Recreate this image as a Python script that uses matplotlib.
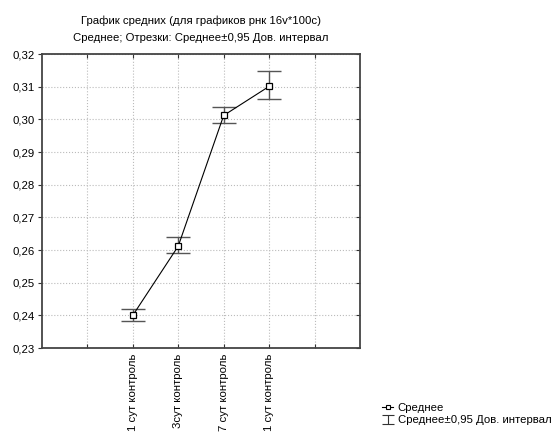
import matplotlib
matplotlib.use("Agg")
import matplotlib.pyplot as plt
from matplotlib.ticker import FuncFormatter, FixedLocator
from matplotlib.legend_handler import HandlerErrorbar
from matplotlib.container import ErrorbarContainer
from matplotlib.lines import Line2D

plt.rcParams['font.family'] = ['Liberation Sans', 'DejaVu Sans']
plt.rcParams['font.size'] = 8.2

# data
groups = ["1 сут контроль", "3сут контроль", "7 сут контроль", "1 сут контроль"]
means = [0.240, 0.2612, 0.3012, 0.3101]
ci_low = [0.2382, 0.2592, 0.2990, 0.3062]
ci_high = [0.2420, 0.2641, 0.3038, 0.3147]
xpos = [2, 3, 4, 5]

fig = plt.figure(figsize=(5.59, 4.43), dpi=100)
ax = fig.add_axes([0.075, 0.2144, 0.569, 0.6636])

yerr = [[m - l for m, l in zip(means, ci_low)],
        [h - m for m, h in zip(means, ci_high)]]
eb = ax.errorbar(xpos, means, yerr=yerr, fmt='none', ecolor='#555555',
                 elinewidth=1.0, capsize=8.5, capthick=1.0, zorder=3)
ln, = ax.plot(xpos, means, color='black', lw=0.8, marker='s', markersize=5,
              markerfacecolor='white', markeredgecolor='black',
              markeredgewidth=0.9, zorder=4)

ax.set_xlim(0, 7)
ax.set_ylim(0.23, 0.32)
ax.xaxis.set_major_locator(FixedLocator([1, 2, 3, 4, 5, 6]))
ax.set_xticklabels(["", groups[0], groups[1], groups[2], groups[3], ""],
                   rotation=90, va='top')
ax.set_yticks([0.23 + 0.01 * i for i in range(10)])
ax.yaxis.set_major_formatter(FuncFormatter(lambda v, p: f"{v:.2f}".replace('.', ',')))

ax.tick_params(axis='x', direction='in', top=True, length=3, color='#333333',
               pad=4)
ax.tick_params(axis='y', direction='out', length=3, color='#333333', pad=2)
ax.tick_params(axis='y', which='both', right=True)
for t in ax.yaxis.get_ticklines()[1::2]:
    t.set_marker(0)
    t.set_markersize(3)
ax.grid(True, ls=':', color='#bbbbbb', lw=0.8)
for s in ax.spines.values():
    s.set_color('#444444')
    s.set_linewidth(1.3)

fig.text(0.36, 0.953, "График средних (для графиков рнк 16v*100c)", ha='center',
         va='center')
fig.text(0.36, 0.914, "Среднее; Отрезки: Среднее±0,95 Дов. интервал", ha='center',
         va='center')

# small legend handles (proxies, nothing drawn in the axes)
h_mean = Line2D([], [], color='black', lw=0.8, marker='s', markersize=3.5,
                markerfacecolor='white', markeredgecolor='black', markeredgewidth=0.8)
h_ci = ax.errorbar([float('nan')], [float('nan')], yerr=[0.001], fmt='none',
                   ecolor='#333333', elinewidth=0.8, capsize=4.5, capthick=0.8)
leg = fig.legend([h_mean, h_ci], ["Среднее", "Среднее±0,95 Дов. интервал"],
                 loc='lower left', bbox_to_anchor=(0.675, 0.03), frameon=False,
                 handlelength=1.0, handletextpad=0.4,
                 labelspacing=0.2, borderaxespad=0,
                 handler_map={ErrorbarContainer: HandlerErrorbar(yerr_size=0.4)})

fig.savefig("out.png", dpi=100)
